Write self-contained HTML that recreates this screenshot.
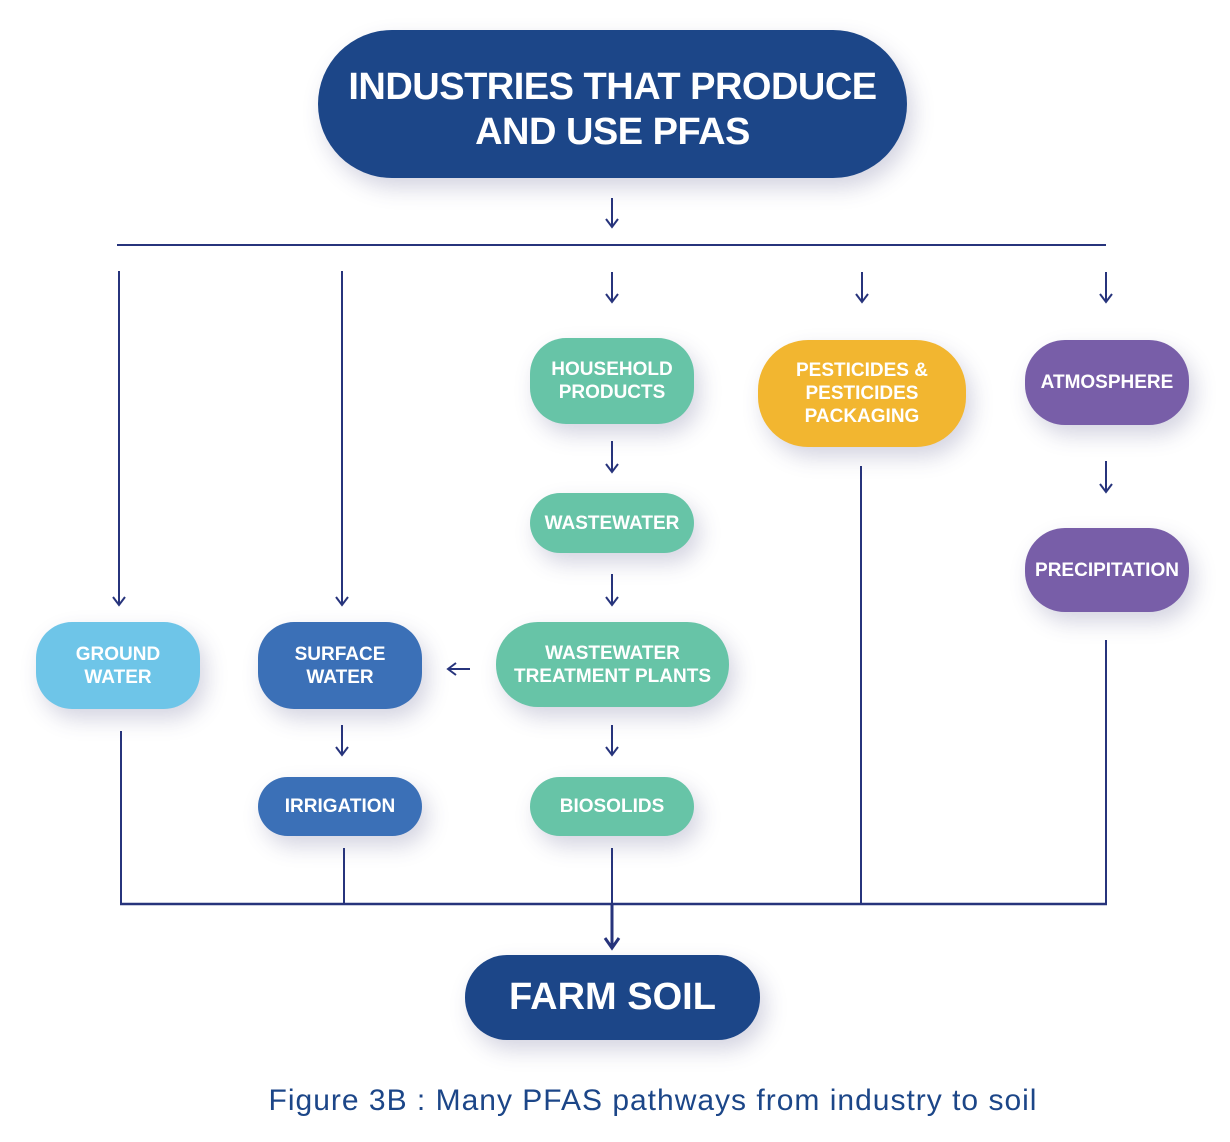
<!DOCTYPE html>
<html><head><meta charset="utf-8"><style>
html,body{margin:0;padding:0;background:#fff;}
body{width:1230px;height:1142px;position:relative;overflow:hidden;font-family:"Liberation Sans",sans-serif;}
.n{position:absolute;display:flex;align-items:center;justify-content:center;text-align:center;color:#fff;font-weight:bold;font-size:19px;line-height:23px;box-shadow:6px 10px 22px rgba(60,60,120,0.22);}
svg{position:absolute;left:0;top:0;}
</style></head><body>
<svg width="1230" height="1142" viewBox="0 0 1230 1142" fill="none" stroke="#27347c" stroke-width="2">
<line x1="612" y1="198" x2="612" y2="227"/><polyline points="606,219 612,227 618,219"/>
<line x1="117" y1="245" x2="1106" y2="245"/>
<line x1="119" y1="271" x2="119" y2="605"/><polyline points="113,597 119,605 125,597"/>
<line x1="342" y1="271" x2="342" y2="605"/><polyline points="336,597 342,605 348,597"/>
<line x1="612" y1="272" x2="612" y2="302"/><polyline points="606,294 612,302 618,294"/>
<line x1="862" y1="272" x2="862" y2="302"/><polyline points="856,294 862,302 868,294"/>
<line x1="1106" y1="272" x2="1106" y2="302"/><polyline points="1100,294 1106,302 1112,294"/>
<line x1="612" y1="441" x2="612" y2="472"/><polyline points="606,464 612,472 618,464"/>
<line x1="612" y1="574" x2="612" y2="605"/><polyline points="606,597 612,605 618,597"/>
<line x1="612" y1="725" x2="612" y2="755"/><polyline points="606,747 612,755 618,747"/>
<line x1="448" y1="669" x2="470" y2="669"/><polyline points="456,663 448,669 456,675"/>
<line x1="342" y1="725" x2="342" y2="755"/><polyline points="336,747 342,755 348,747"/>
<line x1="1106" y1="461" x2="1106" y2="492"/><polyline points="1100,484 1106,492 1112,484"/>
<line x1="121" y1="731" x2="121" y2="904"/>
<line x1="344" y1="848" x2="344" y2="904"/>
<line x1="612" y1="848" x2="612" y2="904"/>
<line x1="861" y1="466" x2="861" y2="904"/>
<line x1="1106" y1="640" x2="1106" y2="903"/>
<line x1="120" y1="904" x2="1107" y2="904" stroke-width="2.5"/>
<line x1="612" y1="904" x2="612" y2="947" stroke-width="3"/><polyline points="605,938 612,948 619,938" stroke-width="3"/>
</svg>

<div class="n" style="left:318px;top:30px;width:589px;height:148px;border-radius:74px/74px;background:#1c4688;font-size:38px;line-height:45px;letter-spacing:-0.5px;"><div style="margin-top:12px">INDUSTRIES THAT PRODUCE<br>AND USE PFAS</div></div>

<div class="n" style="left:530px;top:338px;width:164px;height:86px;border-radius:36px;background:#67c4a7;">HOUSEHOLD<br>PRODUCTS</div>
<div class="n" style="left:758px;top:340px;width:208px;height:107px;border-radius:50px;background:#f2b630;">PESTICIDES &amp;<br>PESTICIDES<br>PACKAGING</div>
<div class="n" style="left:1025px;top:340px;width:164px;height:85px;border-radius:40px;background:#785ea8;">ATMOSPHERE</div>
<div class="n" style="left:530px;top:493px;width:164px;height:60px;border-radius:30px;background:#67c4a7;">WASTEWATER</div>
<div class="n" style="left:1025px;top:528px;width:164px;height:84px;border-radius:40px;background:#785ea8;">PRECIPITATION</div>
<div class="n" style="left:36px;top:622px;width:164px;height:87px;border-radius:36px;background:#6ec5e8;">GROUND<br>WATER</div>
<div class="n" style="left:258px;top:622px;width:164px;height:87px;border-radius:36px;background:#3b70b7;">SURFACE<br>WATER</div>
<div class="n" style="left:496px;top:622px;width:233px;height:85px;border-radius:42px;background:#67c4a7;">WASTEWATER<br>TREATMENT PLANTS</div>
<div class="n" style="left:258px;top:777px;width:164px;height:59px;border-radius:30px;background:#3b70b7;">IRRIGATION</div>
<div class="n" style="left:530px;top:777px;width:164px;height:59px;border-radius:30px;background:#67c4a7;">BIOSOLIDS</div>

<div class="n" style="left:465px;top:955px;width:295px;height:85px;border-radius:42px;background:#1c4688;font-size:38px;">FARM SOIL</div>

<div style="position:absolute;left:0;width:1306px;top:1083px;text-align:center;color:#1c4688;font-size:30px;letter-spacing:1px;line-height:36px;">Figure 3B : Many PFAS pathways from industry to soil</div>
</body></html>
